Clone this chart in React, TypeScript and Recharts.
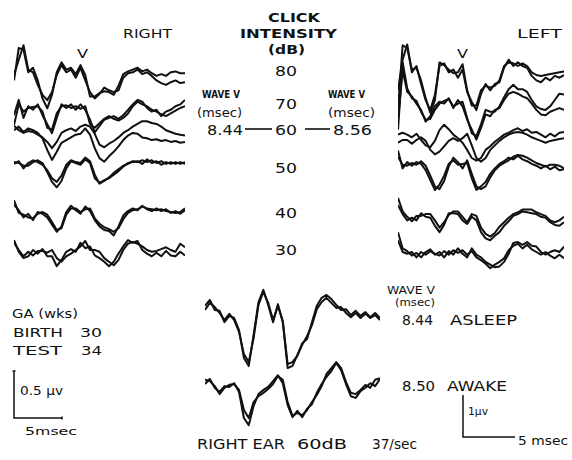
import React from 'react';
import { LineChart, Line, XAxis, YAxis } from 'recharts';

// Common time base of every averaged response (msec after the click)
const TIME_MS = [
  0, 0.5, 1, 1.5, 2, 2.5, 3, 3.5, 4, 4.5, 5, 5.5, 6, 6.5, 7, 7.5, 8, 8.5, 9, 9.5,
  10, 10.5, 11, 11.5, 12, 12.5, 13, 13.5, 14, 14.5, 15, 15.5, 16, 16.5, 17, 17.5, 18,
];

const INTENSITIES_DB = [80, 70, 60, 50, 40, 30];

// Right ear, two replications (A/B) per click intensity, amplitude in µV
const RIGHT_EAR_80_A = [-0.06, 0.3, 0.28, 0.03, 0.08, -0.06, -0.26, -0.37, -0.22, 0.03, 0.14, 0.06, 0.08, 0.01, 0.11, 0, -0.24, -0.24, -0.2, -0.18, -0.19, -0.22, -0.12, 0.01, 0.04, 0.06, 0.08, 0.04, 0.06, 0.02, -0.01, 0.01, -0.01, 0.03, 0.04, 0.02, 0.02];
const RIGHT_EAR_80_B = [0, 0.17, 0.33, 0.06, 0.03, -0.11, -0.22, -0.28, -0.19, 0, 0.11, 0.03, 0.06, -0.03, 0.08, -0.06, -0.19, -0.26, -0.21, -0.14, -0.17, -0.19, -0.17, -0.03, 0.02, 0.03, 0.06, 0.01, 0.03, -0.01, -0.06, -0.09, -0.11, -0.08, -0.06, -0.09, -0.08];
const RIGHT_EAR_70_A = [-0.19, 0.04, -0.04, 0, 0.01, 0.02, -0.04, -0.22, -0.24, -0.06, 0.02, 0.03, 0, 0.02, -0.01, 0.02, -0.18, -0.22, -0.17, -0.12, -0.09, -0.12, -0.14, -0.11, -0.06, 0.02, 0.07, 0.04, 0.02, -0.02, -0.04, -0.07, -0.09, -0.06, -0.03, 0, 0.02];
const RIGHT_EAR_70_B = [-0.08, 0.09, -0.11, 0.02, -0.02, 0.04, -0.08, -0.18, -0.28, -0.11, 0.04, 0, 0.04, -0.02, 0.04, -0.02, -0.13, -0.27, -0.2, -0.13, -0.11, -0.09, -0.12, -0.08, -0.02, 0.04, 0.09, 0.07, 0, -0.04, -0.02, -0.09, -0.04, -0.02, 0.02, 0.04, 0.09];
const RIGHT_EAR_60_A = [0.07, 0.02, -0.01, 0.01, 0, -0.03, -0.06, -0.11, -0.18, -0.11, -0.01, 0.02, 0.04, 0.01, 0.06, 0.08, 0.06, -0.02, -0.14, -0.17, -0.13, -0.1, -0.06, -0.01, 0.02, 0.06, 0.09, 0.12, 0.12, 0.1, 0.09, 0.06, 0.02, 0, -0.02, -0.03, -0.04];
const RIGHT_EAR_60_B = [0.02, 0.06, 0, 0.04, 0.02, -0.01, -0.07, -0.2, -0.31, -0.22, -0.12, -0.09, -0.06, -0.03, -0.02, 0.04, -0.03, -0.18, -0.29, -0.33, -0.27, -0.22, -0.16, -0.09, -0.04, -0.01, -0.02, -0.06, -0.07, -0.09, -0.08, -0.1, -0.09, -0.11, -0.1, -0.12, -0.11];
const RIGHT_EAR_50_A = [0.01, 0, -0.03, -0.03, 0.01, 0.03, 0, -0.1, -0.21, -0.27, -0.2, -0.06, 0.02, 0, -0.02, 0.04, 0, -0.17, -0.22, -0.19, -0.17, -0.13, -0.09, -0.04, 0, 0.01, 0.02, -0.01, 0.04, 0, 0.02, -0.02, 0.01, -0.01, 0.01, -0.01, 0.01];
const RIGHT_EAR_50_B = [-0.01, 0.02, -0.06, 0, 0.03, 0.01, -0.02, -0.08, -0.17, -0.21, -0.14, -0.02, 0.03, 0.01, 0, 0.06, 0.02, -0.13, -0.23, -0.2, -0.16, -0.11, -0.07, -0.03, -0.01, 0.02, 0.01, 0.03, 0.01, 0.03, 0, 0.02, -0.01, 0.01, -0.01, 0.01, -0.01];
const RIGHT_EAR_40_A = [0.13, -0.01, -0.03, -0.06, -0.07, -0.02, 0, -0.03, -0.11, -0.2, -0.18, -0.03, 0.04, 0.04, 0, 0.03, 0.04, -0.07, -0.13, -0.17, -0.19, -0.22, -0.18, -0.08, -0.01, 0.02, 0.03, 0.06, 0.04, 0.03, 0.02, 0.03, 0.01, 0, -0.01, 0, 0.04];
const RIGHT_EAR_40_B = [0.08, 0.02, -0.06, -0.02, -0.09, 0, -0.02, -0.06, -0.14, -0.22, -0.16, 0, 0.07, 0.02, -0.02, 0.06, 0.01, -0.09, -0.16, -0.2, -0.21, -0.26, -0.16, -0.04, 0.01, 0.04, 0.02, 0.07, 0.03, 0.01, 0.04, 0.01, 0.03, -0.01, 0.01, -0.02, 0.02];
const RIGHT_EAR_30_A = [0.08, 0, -0.07, -0.02, -0.06, -0.01, -0.01, -0.03, 0, -0.09, -0.13, -0.07, -0.04, 0, 0.04, 0.1, 0, 0, -0.02, -0.09, -0.13, -0.17, -0.11, 0, 0.07, 0.09, 0.07, 0.04, 0, -0.02, -0.01, 0.01, 0.03, 0, -0.02, 0.07, 0.03];
const RIGHT_EAR_30_B = [0.11, -0.02, -0.09, -0.07, 0, -0.04, 0.01, -0.07, -0.07, -0.18, -0.11, -0.02, 0.01, -0.02, 0.08, 0.02, 0.04, -0.06, -0.09, -0.13, -0.18, -0.13, -0.04, 0.04, 0.11, 0.08, 0.1, 0, -0.04, -0.07, -0.03, -0.07, -0.01, -0.06, -0.07, -0.02, -0.06];

// Left ear, two replications (A/B) per click intensity, amplitude in µV
const LEFT_EAR_80_A = [-0.39, 0.33, 0.3, 0.06, 0.08, -0.06, -0.26, -0.42, -0.28, 0.14, 0.11, 0.06, 0.02, 0.03, 0.12, -0.17, -0.34, -0.34, -0.17, -0.12, -0.14, -0.12, -0.06, 0.1, 0.14, 0.13, 0.1, 0.13, 0.1, 0.03, 0, -0.01, 0, 0.01, 0.02, 0.03, 0.04];
const LEFT_EAR_80_B = [-0.17, 0.17, 0.34, 0.03, 0.1, -0.1, -0.28, -0.39, -0.22, 0.1, 0.13, 0.03, 0.06, -0.03, 0.06, -0.19, -0.3, -0.39, -0.21, -0.1, -0.17, -0.1, -0.08, 0.08, 0.17, 0.1, 0.14, 0.1, 0.08, -0.01, -0.06, -0.08, -0.03, -0.06, -0.01, -0.03, 0];
const LEFT_EAR_70_A = [-0.33, 0.42, 0.13, 0.02, -0.01, -0.13, -0.22, -0.21, -0.11, -0.04, -0.01, 0.01, -0.07, -0.04, -0.02, -0.2, -0.37, -0.4, -0.27, -0.11, -0.13, -0.13, -0.07, 0.03, 0.12, 0.17, 0.12, 0.12, 0.09, 0, -0.07, -0.1, -0.11, -0.07, 0, 0.07, 0.06];
const LEFT_EAR_70_B = [-0.22, 0.33, 0.09, 0.04, -0.04, -0.11, -0.24, -0.18, -0.07, -0.02, -0.04, 0.02, -0.09, 0, -0.07, -0.22, -0.33, -0.44, -0.31, -0.16, -0.18, -0.11, -0.09, 0, 0.07, 0.09, 0.07, 0.04, 0.02, -0.04, -0.11, -0.16, -0.17, -0.13, -0.11, -0.09, -0.11];
const LEFT_EAR_60_A = [-0.03, 0, 0, -0.04, 0, 0.03, -0.01, -0.11, -0.16, -0.13, -0.07, -0.01, 0.02, -0.01, 0.02, 0.07, -0.06, -0.2, -0.24, -0.2, -0.11, -0.06, -0.01, 0.03, 0.06, 0.08, 0.09, 0.08, 0.06, 0.03, 0.01, -0.01, -0.03, -0.01, 0, 0.01, 0.02];
const LEFT_EAR_60_B = [0.06, 0.08, 0.06, 0.03, 0.07, 0, -0.06, -0.08, -0.01, 0.11, 0.17, 0.12, 0.06, 0.02, -0.03, -0.11, -0.2, -0.23, -0.2, -0.11, -0.07, -0.02, 0.02, 0.06, 0.08, 0.11, 0.13, 0.1, 0.12, 0.08, 0.09, 0.06, 0.03, 0.07, 0.04, 0.08, 0.09];
const LEFT_EAR_50_A = [0.07, -0.02, -0.03, 0, -0.02, 0.02, -0.03, -0.14, -0.26, -0.29, -0.2, -0.04, 0.06, 0.01, -0.06, 0.03, -0.12, -0.26, -0.29, -0.26, -0.16, -0.08, -0.03, 0, 0.03, 0.07, 0.09, 0.08, 0.06, 0.03, 0, -0.02, -0.04, -0.02, -0.02, -0.03, -0.06];
const LEFT_EAR_50_B = [0.14, -0.06, 0.01, -0.03, 0.01, -0.01, -0.08, -0.19, -0.3, -0.24, -0.14, -0.01, 0.03, -0.02, -0.01, 0, -0.17, -0.3, -0.26, -0.21, -0.12, -0.06, -0.01, 0.02, 0.06, 0.04, 0.08, 0.04, 0.02, -0.01, -0.03, -0.06, -0.03, -0.07, -0.04, -0.08, -0.07];
const LEFT_EAR_40_A = [0.19, 0.04, -0.02, -0.07, -0.01, -0.01, 0.01, 0.01, -0.06, -0.14, -0.08, 0, 0.04, 0.04, -0.02, -0.08, 0.01, -0.01, -0.14, -0.21, -0.24, -0.2, -0.13, -0.08, -0.03, 0.01, 0.03, 0.06, 0.06, 0.06, 0.03, 0.01, -0.01, -0.06, -0.08, -0.06, -0.02];
const LEFT_EAR_40_B = [0.11, 0.01, -0.06, -0.03, -0.06, 0.02, -0.02, -0.03, -0.12, -0.19, -0.11, 0.02, 0.02, 0.01, -0.06, -0.1, -0.02, -0.06, -0.19, -0.26, -0.28, -0.23, -0.19, -0.12, -0.07, -0.01, 0.01, 0.04, 0.03, 0.02, 0.01, -0.02, -0.03, -0.08, -0.11, -0.12, -0.08];
const LEFT_EAR_30_A = [0.22, 0.04, 0.01, -0.04, -0.01, -0.06, 0, 0.03, -0.03, 0, -0.06, 0.01, -0.03, 0.04, -0.02, -0.06, 0.04, -0.03, -0.06, -0.11, -0.14, -0.17, -0.16, -0.11, -0.02, 0.1, 0.11, 0.08, 0.11, 0.07, 0.06, 0, -0.03, 0, 0.02, 0, 0.06];
const LEFT_EAR_30_B = [0.13, 0, -0.02, 0, -0.06, 0, -0.03, 0.01, -0.02, -0.04, 0.01, -0.03, 0.02, -0.01, 0.02, -0.03, 0.01, -0.06, -0.09, -0.13, -0.18, -0.14, -0.11, -0.07, 0.02, 0.07, 0.09, 0.04, 0.08, 0.03, 0, -0.03, 0, -0.04, -0.07, -0.03, -0.07];

// Right ear, 60 dB, 37/sec: asleep vs awake (µV)
const ASLEEP_A = [0.29, 0.43, 0.19, 0.17, -0.1, 0.05, 0, -0.29, -0.95, -1.14, -0.4, 0.38, 0.67, 0.31, -0.1, 0.33, -0.1, -1.19, -1.14, -0.88, -0.64, -0.43, -0.17, 0.21, 0.38, 0.48, 0.36, 0.24, 0.26, 0.12, 0.02, 0.12, 0, 0.1, 0, 0.07, -0.05];
const ASLEEP_B = [0.19, 0.36, 0.26, 0.12, -0.05, 0.1, -0.05, -0.33, -0.86, -1.05, -0.48, 0.31, 0.62, 0.36, -0.05, 0.29, -0.07, -1.1, -1.05, -0.9, -0.6, -0.5, -0.1, 0.29, 0.48, 0.55, 0.45, 0.31, 0.19, 0.21, 0.07, 0.17, 0.05, 0.14, 0.02, 0.12, 0];
const AWAKE_A = [0.29, 0.26, 0.14, -0.05, 0.1, 0.17, 0.19, 0.05, -0.43, -0.62, -0.24, -0.1, -0.02, 0.07, 0.19, 0.38, 0.29, -0.24, -0.57, -0.5, -0.55, -0.43, -0.24, -0.07, 0.14, 0.43, 0.57, 0.71, 0.57, 0.24, -0.02, -0.05, 0.05, 0.17, 0.1, 0.29, 0.33];
const AWAKE_B = [0.19, 0.31, 0.1, 0, 0.14, 0.12, 0.21, 0, -0.62, -0.79, -0.33, -0.05, 0.05, 0.12, 0.26, 0.4, 0.21, -0.31, -0.6, -0.45, -0.6, -0.4, -0.29, -0.02, 0.19, 0.36, 0.5, 0.69, 0.52, 0.19, -0.1, -0.14, 0.02, 0.1, 0.21, 0.14, 0.31];

// Wave V latencies (msec)
const WAVE_V_RIGHT_60 = '8.44';
const WAVE_V_LEFT_60 = '8.56';
const WAVE_V_ASLEEP = '8.44';
const WAVE_V_AWAKE = '8.50';

const INK = '#111';
const FONT = "'DejaVu Sans', 'Liberation Sans', sans-serif";

type Trace = { key: string; values: number[]; baseline: number };

type PanelProps = {
  left: number;
  top: number;
  width: number;
  height: number;
  pxPerUV: number;
  traces: Trace[];
};

// One block of stacked traces; each trace is shifted to its own baseline row
function TracePanel({ left, top, width, height, pxPerUV, traces }: PanelProps) {
  const yMin = -height / pxPerUV;
  const data = TIME_MS.map((t, i) => {
    const row: Record<string, number> = { t };
    traces.forEach((tr) => {
      row[tr.key] = tr.values[i] + (top - tr.baseline) / pxPerUV;
    });
    return row;
  });
  return (
    <div style={{ position: 'absolute', left, top, width, height }}>
      <LineChart width={width} height={height} data={data} margin={{ top: 0, right: 0, bottom: 0, left: 0 }}>
        <XAxis dataKey="t" type="number" domain={[0, 18]} hide allowDataOverflow />
        <YAxis type="number" domain={[yMin, 0]} hide allowDataOverflow />
        {traces.map((tr) => (
          <Line
            key={tr.key}
            dataKey={tr.key}
            type="linear"
            stroke={INK}
            strokeWidth={2}
            strokeLinejoin="round"
            dot={false}
            activeDot={false}
            isAnimationActive={false}
          />
        ))}
      </LineChart>
    </div>
  );
}

const RIGHT_ROWS = [75, 108, 132, 163, 212, 250];
const LEFT_ROWS = [75, 100, 140, 163, 215, 252];

const rightEarTraces: Trace[] = [
  [RIGHT_EAR_80_A, RIGHT_EAR_80_B],
  [RIGHT_EAR_70_A, RIGHT_EAR_70_B],
  [RIGHT_EAR_60_A, RIGHT_EAR_60_B],
  [RIGHT_EAR_50_A, RIGHT_EAR_50_B],
  [RIGHT_EAR_40_A, RIGHT_EAR_40_B],
  [RIGHT_EAR_30_A, RIGHT_EAR_30_B],
].flatMap(([a, b], i) => [
  { key: `r${INTENSITIES_DB[i]}a`, values: a, baseline: RIGHT_ROWS[i] },
  { key: `r${INTENSITIES_DB[i]}b`, values: b, baseline: RIGHT_ROWS[i] },
]);

const leftEarTraces: Trace[] = [
  [LEFT_EAR_80_A, LEFT_EAR_80_B],
  [LEFT_EAR_70_A, LEFT_EAR_70_B],
  [LEFT_EAR_60_A, LEFT_EAR_60_B],
  [LEFT_EAR_50_A, LEFT_EAR_50_B],
  [LEFT_EAR_40_A, LEFT_EAR_40_B],
  [LEFT_EAR_30_A, LEFT_EAR_30_B],
].flatMap(([a, b], i) => [
  { key: `l${INTENSITIES_DB[i]}a`, values: a, baseline: LEFT_ROWS[i] },
  { key: `l${INTENSITIES_DB[i]}b`, values: b, baseline: LEFT_ROWS[i] },
]);

const stateTraces: Trace[] = [
  { key: 'asleepA', values: ASLEEP_A, baseline: 318 },
  { key: 'asleepB', values: ASLEEP_B, baseline: 318 },
  { key: 'awakeA', values: AWAKE_A, baseline: 392 },
  { key: 'awakeB', values: AWAKE_B, baseline: 392 },
];

type LabelProps = { x: number; y: number; w: number; size: number; bold?: boolean; children: React.ReactNode };

function Label({ x, y, w, size, bold, children }: LabelProps) {
  return (
    <text
      x={x}
      y={y}
      textLength={w}
      lengthAdjust="spacingAndGlyphs"
      fontSize={size}
      fontWeight={bold ? 'bold' : 'normal'}
      fontFamily={FONT}
      fill={INK}
    >
      {children}
    </text>
  );
}

const INTENSITY_LABEL_Y = [75.5, 108.5, 135, 173, 218, 255];

export default function App() {
  return (
    <div style={{ position: 'absolute', left: 0, top: 0, width: 572, height: 460, background: '#fff', overflow: 'hidden' }}>
      <TracePanel left={14} top={35} width={171} height={250} pxPerUV={90} traces={rightEarTraces} />
      <TracePanel left={398} top={35} width={166} height={250} pxPerUV={90} traces={leftEarTraces} />
      <TracePanel left={205} top={280} width={175} height={160} pxPerUV={42} traces={stateTraces} />

      <svg width={572} height={460} style={{ position: 'absolute', left: 0, top: 0, pointerEvents: 'none' }}>
        <Label x={123} y={37.5} w={49} size={13}>RIGHT</Label>
        <Label x={517} y={37.5} w={45} size={13}>LEFT</Label>
        <Label x={77} y={58} w={11} size={12}>V</Label>
        <Label x={457} y={58} w={11} size={12}>V</Label>

        <Label x={268} y={22} w={52} size={13} bold>CLICK</Label>
        <Label x={240} y={37.5} w={97} size={13} bold>INTENSITY</Label>
        <Label x={268} y={53.5} w={37} size={13} bold>(dB)</Label>
        {INTENSITIES_DB.map((db, i) => (
          <Label key={db} x={275} y={INTENSITY_LABEL_Y[i]} w={22} size={14}>{db}</Label>
        ))}

        <Label x={202} y={98} w={38} size={11} bold>WAVE V</Label>
        <Label x={197} y={117} w={45} size={13}>(msec)</Label>
        <Label x={207} y={135} w={36} size={14}>{WAVE_V_RIGHT_60}</Label>
        <line x1={245} y1={129} x2={272} y2={129} stroke={INK} strokeWidth={1.6} />

        <Label x={328} y={98} w={37} size={11} bold>WAVE V</Label>
        <Label x={328} y={117} w={47} size={13}>(msec)</Label>
        <line x1={305} y1={129} x2={330} y2={129} stroke={INK} strokeWidth={1.6} />
        <Label x={333} y={135} w={39} size={14}>{WAVE_V_LEFT_60}</Label>

        <Label x={12} y={318} w={66} size={13}>GA (wks)</Label>
        <Label x={13} y={337} w={50} size={13}>BIRTH</Label>
        <Label x={80} y={337} w={22} size={13}>30</Label>
        <Label x={13} y={355} w={49} size={13}>TEST</Label>
        <Label x={81} y={355} w={21} size={13}>34</Label>

        <path d="M14 371 V418 H62" fill="none" stroke={INK} strokeWidth={1.5} />
        <line x1={12.5} y1={371} x2={15.5} y2={371} stroke={INK} strokeWidth={1.5} />
        <line x1={62} y1={416.5} x2={62} y2={419.5} stroke={INK} strokeWidth={1.5} />
        <Label x={20} y={395} w={43} size={12}>0.5 µv</Label>
        <Label x={25} y={435} w={52} size={11}>5msec</Label>

        <Label x={387} y={294} w={48} size={11}>WAVE V</Label>
        <Label x={395} y={306} w={40} size={10}>(msec)</Label>
        <Label x={402} y={325} w={31} size={14}>{WAVE_V_ASLEEP}</Label>
        <Label x={450} y={325} w={67} size={14}>ASLEEP</Label>
        <Label x={402} y={391} w={33} size={14}>{WAVE_V_AWAKE}</Label>
        <Label x={447} y={391} w={60} size={14}>AWAKE</Label>

        <path d="M463 395 V437 H515" fill="none" stroke={INK} strokeWidth={1.5} />
        <Label x={468} y={415} w={20} size={11}>1µv</Label>
        <Label x={518} y={445} w={50} size={12}>5 msec</Label>

        <Label x={197} y={449} w={88} size={14}>RIGHT EAR</Label>
        <Label x={297} y={449} w={50} size={14}>60dB</Label>
        <Label x={372} y={449} w={45} size={14}>37/sec</Label>
      </svg>
    </div>
  );
}
